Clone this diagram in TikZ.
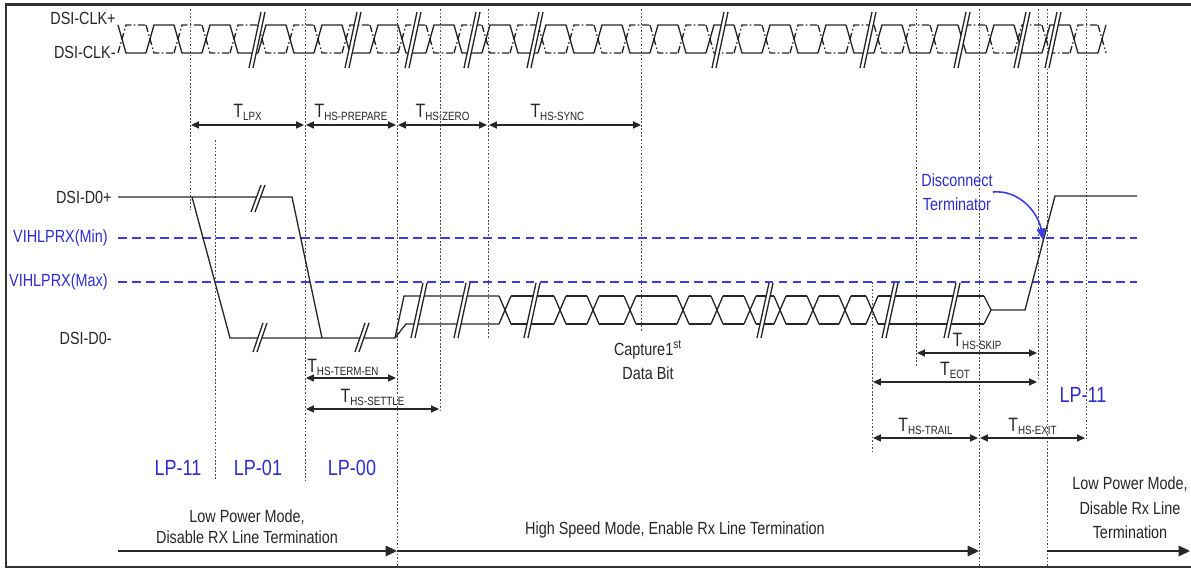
\documentclass[tikz,border=0pt]{standalone}
\usepackage{fontspec}
\setmainfont{Liberation Sans}[FakeStretch=0.82]
\usetikzlibrary{arrows.meta}

\definecolor{lpblue}{RGB}{45,45,205}
\definecolor{refblue}{RGB}{60,60,225}
\newcommand{\tsub}[1]{{\fontsize{11}{12}\selectfont T}\raisebox{-1.6pt}{\fontsize{6.8}{7}\selectfont #1}}
% break mark: x, top y, bottom y, slant
\newcommand{\brkmark}[4]{%
  \fill[white] (#1+#4-2,#2) -- (#1+#4+2,#2) -- (#1-#4+2,#3) -- (#1-#4-2,#3) -- cycle;
  \draw[sig] (#1+#4-2,#2) -- (#1-#4-2,#3);
  \draw[sig] (#1+#4+2,#2) -- (#1-#4+2,#3);}

\begin{document}
\begin{tikzpicture}
	[x=0.02cm, y=-0.02cm, black!85,
	 lbl/.style = {text=black!85, font=\fontsize{10}{12}\selectfont, inner sep=0pt},
	 lbltwo/.style = {lbl, align=center, font=\fontsize{10}{13.6}\selectfont},
	 lp/.style = {text=lpblue, font=\fontsize{12.5}{14}\selectfont, inner sep=0pt},
	 vdot/.style = {line width=0.5pt, black!70, dash pattern=on 1pt off 1pt},
	 lvl/.style = {refblue, line width=0.9pt, dash pattern=on 5pt off 3pt},
	 dimarr/.style = {{Triangle[length=4.5pt,width=4pt]}-{Triangle[length=4.5pt,width=4pt]}, line width=0.9pt},
	 modearr/.style = {-{Triangle[length=6.5pt,width=6pt]}, line width=0.9pt},
	 sig/.style = {line width=0.75pt},
	 sigb/.style = {line width=0.75pt, dash pattern=on 4pt off 1.5pt on 0.8pt off 1.5pt}]
	\useasboundingbox (0,0) rectangle (1191,570);
	\draw[line width=1.7pt, black!80] (1191,5) -- (6,5) -- (6,567) -- (1191,567);

	% timing marker lines
	\foreach \x/\ya/\yb in {190/9/210, 215/140/480, 305/9/480, 397/9/567, 440/9/410,
	    488/9/338, 641/9/332, 872/282/452, 916/9/367, 979/9/567, 1038/9/378,
	    1047/9/567, 1086/9/440}
	  \draw[vdot] (\x,\ya) -- (\x,\yb);

	% clock pair
	\node[lbl, anchor=east] (clkp) at (116,18) {DSI-CLK+};
	\node[lbl, anchor=east] (clkn) at (116,52) {DSI-CLK-};
	\foreach \k in {0,...,34} {
	  \pgfmathsetmacro\cx{122+28*\k}
	  \pgfmathsetmacro\ya{25+28*mod(\k,2)}
	  \pgfmathsetmacro\yb{78-\ya}
	  \draw[sig] (\cx-4,\ya) -- (\cx+4,\yb) -- (\cx+24,\yb);
	  \draw[sigb] (\cx-4,\yb) -- (\cx+4,\ya) -- (\cx+24,\ya);
	}
	\draw[sig] (1098,53) -- (1106,25);
	\draw[sigb] (1098,25) -- (1106,53);
	\foreach \x in {257,353,413,472,535,720,868,962,1022,1053} {
	  \brkmark{\x}{12}{68}{6}
	}

	% receiver levels
	\node[lbl, text=lpblue, anchor=east] (vmin) at (108,238) {VIHLPRX(Min)};
	\node[lbl, text=lpblue, anchor=east] (vmax) at (108,282) {VIHLPRX(Max)};
	\draw[lvl] (118,238) -- (1137,238);
	\draw[lvl] (118,282) -- (1137,282);

	% data lane
	\node[lbl, anchor=east] (dp) at (112,197) {DSI-D0+};
	\node[lbl, anchor=east] (dn) at (112,338) {DSI-D0-};
	\draw[sig] (118,197) -- (292,197) -- (322,338);
	\draw[sig] (192,197) -- (230,338) -- (395,338) -- (404,296) -- (499,296);
	\draw[sig] (395,338) -- (406,324) -- (499,324);
	\foreach \a/\b in {511/554, 566/587, 599/624, 636/677, 689/711, 723/744,
	    756/774, 786/807, 819/839, 851/866, 878/984} {
	  \draw[sig] (\a,296) -- (\b,296);
	  \draw[sig] (\a,324) -- (\b,324);
	}
	\foreach \c in {505,560,593,630,683,717,750,780,813,845,872} {
	  \draw[sig] (\c-6,296) -- (\c+6,324);
	  \draw[sig] (\c-6,324) -- (\c+6,296);
	}
	\draw[sig] (984,296) -- (991,310) -- (984,324);
	\draw[sig] (991,310) -- (1025,310) -- (1055,196) -- (1137,196);
	\brkmark{258}{185}{212}{5}
	\brkmark{260}{323}{352}{5}
	\brkmark{362}{323}{352}{5}
	\foreach \x in {419,462,532,765,890,952} {
	  \brkmark{\x}{283}{338}{6}
	}

	% disconnect note
	\node[lbltwo, text=lpblue] (disc) at (957,192) {Disconnect\\Terminator};
	\coordinate (cross) at (1043,240);
	\draw[refblue, line width=0.9pt, -{Triangle[length=6.5pt,width=5pt]}]
	  (disc.east) to[out=5, in=100] (cross);

	% timing parameters
	\draw[dimarr] (191,125) -- node[lbl, above=2pt] {\tsub{LPX}} (304,125);
	\draw[dimarr] (306,125) -- node[lbl, above=2pt] {\tsub{HS-PREPARE}} (396,125);
	\draw[dimarr] (398,125) -- node[lbl, above=2pt] {\tsub{HS-ZERO}} (487,125);
	\draw[dimarr] (489,125) -- node[lbl, above=2pt, pos=0.45] {\tsub{HS-SYNC}} (641,125);
	\draw[dimarr] (306,378) -- node[lbl, above=1pt, pos=0.41] {\tsub{HS-TERM-EN}} (396,378);
	\draw[dimarr] (306,409) -- node[lbl, above=1.5pt] {\tsub{HS-SETTLE}} (439,409);
	\draw[dimarr] (917,353) -- node[lbl, above=1.5pt] {\tsub{HS-SKIP}} (1037,353);
	\draw[dimarr] (873,382) -- node[lbl, above=1.5pt] {\tsub{EOT}} (1037,382);
	\draw[dimarr] (873,438) -- node[lbl, above=1.5pt] {\tsub{HS-TRAIL}} (978,438);
	\draw[dimarr] (980,438) -- node[lbl, above=1.5pt] {\tsub{HS-EXIT}} (1085,438);

	\node[lbltwo] (cap) at (648,360) {Capture1\textsuperscript{st}\\Data Bit};

	% lane states
	\node[lp] (lp1) at (178,468) {LP-11};
	\node[lp] (lp2) at (258,468) {LP-01};
	\node[lp] (lp3) at (352,468) {LP-00};
	\node[lp] (lp4) at (1083,395) {LP-11};

	% operating modes
	\node[lbl, align=center, font=\fontsize{10}{12}\selectfont] (lpm) at (247,527) {Low Power Mode,\\Disable RX Line Termination};
	\node[lbl] (hsm) at (675,530) {High Speed Mode, Enable Rx Line Termination};
	\node[lbltwo, font=\fontsize{10}{14}\selectfont] (lpm2) at (1130,508) {Low Power Mode,\\Disable Rx Line\\Termination};
	\coordinate (m0) at (118,551);
	\coordinate (m1) at (397,551);
	\coordinate (m2) at (979,551);
	\coordinate (m3) at (1047,551);
	\coordinate (m4) at (1190,551);
	\draw[modearr] (m0) -- (m1);
	\draw[modearr] (m1) -- (m2);
	\draw[modearr] (m3) -- (m4);
\end{tikzpicture}
\end{document}
